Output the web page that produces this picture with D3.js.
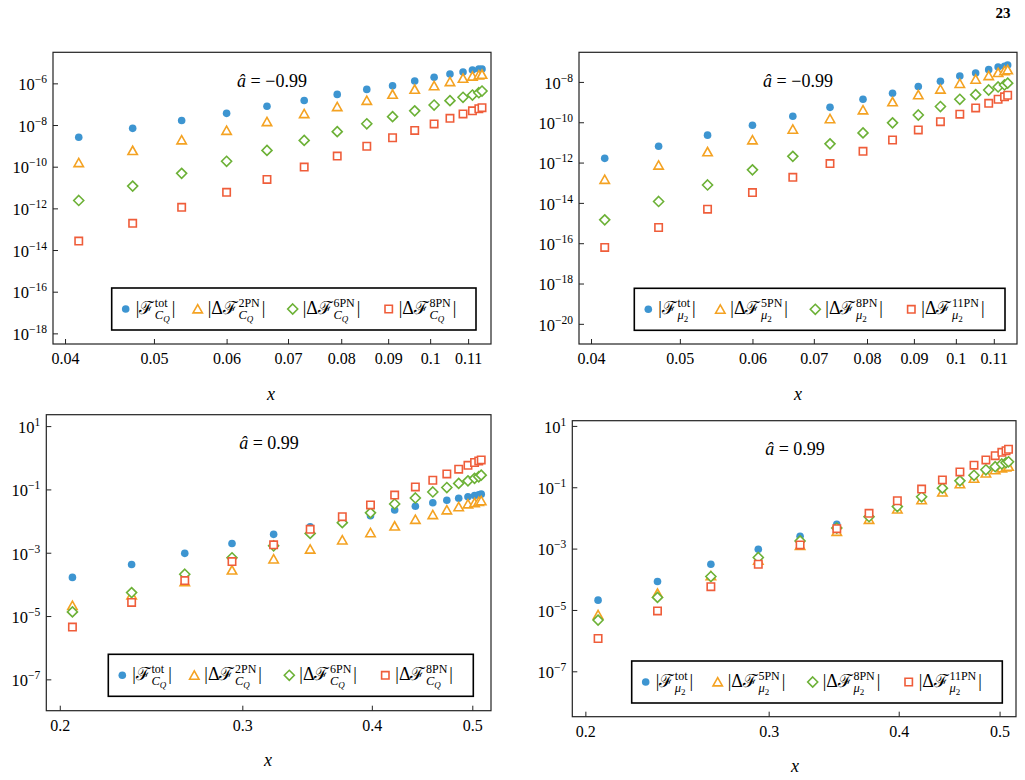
<!DOCTYPE html>
<html>
<head>
<meta charset="utf-8">
<script src="https://cdn.jsdelivr.net/npm/d3@7"></script>
<style>
  body { margin: 0; background: #fff; }
  svg text { font-family: "Liberation Serif", "DejaVu Serif", serif; fill: #000; }
</style>
</head>
<body>
<svg id="fig" width="1025" height="780"></svg>
<script>
// x grid for a = -0.99 (top row) and a = 0.99 (bottom row)
var xNeg = [0.0414, 0.0474, 0.0536, 0.0600, 0.0664, 0.0729, 0.0792, 0.0853, 0.0910, 0.0962, 0.1010, 0.1051, 0.1086, 0.1112, 0.1130, 0.1139];
var xPos = [0.2057, 0.2346, 0.2640, 0.2932, 0.3216, 0.3488, 0.3746, 0.3988, 0.4208, 0.4406, 0.4580, 0.4725, 0.4851, 0.4952, 0.5025, 0.5072, 0.5100];

// log10 of the plotted values
// top left: C_Q, a = -0.99
var cqNegTot = [-8.59, -8.16, -7.78, -7.44, -7.10, -6.82, -6.53, -6.29, -6.12, -5.89, -5.71, -5.55, -5.46, -5.36, -5.31, -5.31];
var cqNeg2PN = [-9.81, -9.23, -8.72, -8.26, -7.84, -7.46, -7.12, -6.82, -6.53, -6.29, -6.12, -5.92, -5.76, -5.66, -5.60, -5.57];
var cqNeg6PN = [-11.62, -10.93, -10.32, -9.74, -9.22, -8.74, -8.32, -7.94, -7.60, -7.32, -7.04, -6.83, -6.67, -6.56, -6.45, -6.37];
var cqNeg8PN = [-13.57, -12.72, -11.95, -11.23, -10.61, -10.02, -9.49, -9.02, -8.61, -8.26, -7.95, -7.68, -7.47, -7.32, -7.22, -7.17];

// top right: mu_2, a = -0.99
var muNegTot = [-11.79, -11.19, -10.64, -10.15, -9.70, -9.26, -8.86, -8.56, -8.23, -7.97, -7.71, -7.56, -7.39, -7.26, -7.23, -7.16];
var muNeg5PN = [-12.84, -12.13, -11.47, -10.88, -10.35, -9.83, -9.39, -8.99, -8.64, -8.36, -8.08, -7.87, -7.69, -7.54, -7.45, -7.40];
var muNeg8PN = [-14.84, -13.93, -13.11, -12.36, -11.69, -11.07, -10.53, -10.03, -9.64, -9.22, -8.86, -8.63, -8.40, -8.25, -8.15, -8.06];
var muNeg11PN = [-16.21, -15.22, -14.31, -13.49, -12.73, -12.05, -11.44, -10.88, -10.38, -9.97, -9.60, -9.29, -9.06, -8.86, -8.74, -8.66];

// bottom left: C_Q, a = 0.99
var cqPosTot = [-3.78, -3.37, -3.02, -2.71, -2.42, -2.18, -2.00, -1.83, -1.65, -1.53, -1.42, -1.34, -1.28, -1.23, -1.19, -1.17, -1.15];
var cqPos2PN = [-4.67, -4.34, -3.92, -3.55, -3.20, -2.89, -2.60, -2.37, -2.16, -1.95, -1.80, -1.65, -1.55, -1.46, -1.42, -1.38, -1.36];
var cqPos6PN = [-4.87, -4.26, -3.68, -3.16, -2.78, -2.39, -2.05, -1.74, -1.46, -1.27, -1.08, -0.94, -0.81, -0.73, -0.65, -0.60, -0.55];
var cqPos8PN = [-5.35, -4.57, -3.88, -3.28, -2.75, -2.26, -1.86, -1.49, -1.18, -0.92, -0.71, -0.51, -0.36, -0.24, -0.15, -0.10, -0.07];

// bottom right: mu_2, a = 0.99
var muPosTot = [-4.68, -4.07, -3.51, -3.02, -2.60, -2.21, -1.97, -1.64, -1.32, -1.05, -0.81, -0.63, -0.45, -0.35, -0.26, -0.22, -0.19];
var muPos5PN = [-5.16, -4.46, -3.89, -3.38, -2.90, -2.44, -2.05, -1.71, -1.41, -1.16, -0.89, -0.71, -0.54, -0.43, -0.37, -0.34, -0.32];
var muPos8PN = [-5.33, -4.59, -3.91, -3.29, -2.75, -2.33, -1.96, -1.63, -1.31, -1.03, -0.79, -0.61, -0.43, -0.33, -0.24, -0.20, -0.17];
var muPos11PN = [-5.93, -5.03, -4.24, -3.51, -2.88, -2.35, -1.85, -1.44, -1.06, -0.76, -0.50, -0.28, -0.11, 0.03, 0.14, 0.19, 0.24];

// tick values
var xTicksNeg = [0.04, 0.05, 0.06, 0.07, 0.08, 0.09, 0.1, 0.11];
var xTicksPos = [0.2, 0.3, 0.4, 0.5];
var yTicksCqNeg = [-6, -8, -10, -12, -14, -16, -18];
var yTicksMuNeg = [-8, -10, -12, -14, -16, -18, -20];
var yTicksPos = [1, -1, -3, -5, -7];

// legend labels
var cqSups = ["tot", "2PN", "6PN", "8PN"];
var muSups = ["tot", "5PN", "8PN", "11PN"];

var colors = ["#3d95d1", "#f4a222", "#6cb136", "#ef5d3a"];
var shapes = ["circle", "triangle", "diamond", "square"];

var svg = d3.select("#fig");

var panels = [
  { box: [53, 52.3, 491, 344], xDom: [0.03881, 0.1165], yDom: [-18.51, -4.51],
    x: xNeg, series: [cqNegTot, cqNeg2PN, cqNeg6PN, cqNeg8PN], xTicks: xTicksNeg, yTicks: yTicksCqNeg,
    sups: cqSups, sub: ["C", "Q"], note: "−0.99", noteAt: [272, 87], xlab: [271, 400], legend: [111.7, 288, 364.3] },
  { box: [579, 52.3, 1017, 344], xDom: [0.03881, 0.1166], yDom: [-21.0, -6.53],
    x: xNeg, series: [muNegTot, muNeg5PN, muNeg8PN, muNeg11PN], xTicks: xTicksNeg, yTicks: yTicksMuNeg,
    sups: muSups, sub: ["μ", "2"], note: "−0.99", noteAt: [798, 87], xlab: [798, 400], legend: [634.3, 288.3, 370.7] },
  { box: [46.3, 414.7, 491, 710.7], xDom: [0.1941, 0.5212], yDom: [-7.99, 1.36],
    x: xPos, series: [cqPosTot, cqPos2PN, cqPos6PN, cqPos8PN], xTicks: xTicksPos, yTicks: yTicksPos,
    sups: cqSups, sub: ["C", "Q"], note: "0.99", noteAt: [269, 449], xlab: [268, 766], legend: [108.3, 654.3, 365] },
  { box: [572.3, 420.7, 1016, 716.7], xDom: [0.1943, 0.5185], yDom: [-8.48, 1.17],
    x: xPos, series: [muPosTot, muPos5PN, muPos8PN, muPos11PN], xTicks: xTicksPos, yTicks: yTicksPos,
    sups: muSups, sub: ["μ", "2"], note: "0.99", noteAt: [795, 455], xlab: [795, 772], legend: [631.7, 661, 370.6] }
];

function markerPath(shape) {
  if (shape == "triangle") return "M0,-4.4L4.7,3.9L-4.7,3.9Z";
  if (shape == "diamond") return "M0,-5L5,0L0,5L-5,0Z";
  if (shape == "square") return "M-3.7,-3.7L3.7,-3.7L3.7,3.7L-3.7,3.7Z";
  return null;
}

function drawMarker(g, shape, color, cx, cy) {
  if (shape == "circle") {
    g.append("circle").attr("cx", cx).attr("cy", cy).attr("r", 3.8).attr("fill", color);
  } else {
    g.append("path")
      .attr("d", markerPath(shape))
      .attr("transform", "translate(" + cx + "," + cy + ")")
      .attr("fill", "#fff")
      .attr("stroke", color)
      .attr("stroke-width", 1.6);
  }
}

// |ΔF^{sup}_{sub}| built from pieces so sup and sub can stack
function mathLabel(g, x, y, delta, sup, sub) {
  var cur = x;
  function put(str, size, dy, italic, at) {
    var t = g.append("text").attr("x", at).attr("y", y + dy)
      .style("font-size", size + "px")
      .style("font-style", italic ? "italic" : "normal")
      .text(str);
    return t.node().getComputedTextLength();
  }
  cur += put(delta ? "|Δ" : "|", 18, 0, false, cur);
  cur += put("ℱ", 18, 0, false, cur) + 0.5;
  var wSup = put(sup, 12, -7, false, cur);
  var wSub = put(sub[0], 12.5, 5, true, cur);
  wSub += put(sub[1], 9, 7.5, sub[1] != "2", cur + wSub);
  cur += Math.max(wSup, wSub) + 2;
  put("|", 18, 0, false, cur);
}

panels.forEach(function(p) {
  var g = svg.append("g");
  var left = p.box[0], top = p.box[1], right = p.box[2], bottom = p.box[3];

  var x = d3.scaleLog().domain(p.xDom).range([left, right]);
  var y = d3.scaleLog().domain([Math.pow(10, p.yDom[0]), Math.pow(10, p.yDom[1])]).range([bottom, top]);

  var xAxis = d3.axisBottom(x).tickValues(p.xTicks).tickSizeInner(-5).tickSizeOuter(0).tickPadding(9)
    .tickFormat(function(d) { return String(d); });
  var yAxis = d3.axisLeft(y).tickValues(p.yTicks.map(function(e) { return Math.pow(10, e); }))
    .tickSizeInner(-5).tickSizeOuter(0).tickPadding(6).tickFormat("");

  var gx = g.append("g").attr("transform", "translate(0," + bottom + ")").call(xAxis);
  gx.attr("font-family", null);
  gx.select(".domain").remove();
  gx.selectAll(".tick line").attr("stroke", "#222");
  gx.selectAll(".tick text").style("font-size", "16px");

  var gy = g.append("g").attr("transform", "translate(" + left + ",0)").call(yAxis);
  gy.attr("font-family", null);
  gy.select(".domain").remove();
  gy.selectAll(".tick line").attr("stroke", "#222");
  gy.selectAll(".tick text").each(function(d, i) {
    var t = d3.select(this).style("font-size", "16.5px").attr("dy", "0.38em");
    t.append("tspan").text("10");
    t.append("tspan").attr("dy", -7).style("font-size", "11.5px")
      .text(String(p.yTicks[i]).replace("-", "−"));
  });

  // points
  p.series.forEach(function(s, k) {
    var pts = g.append("g");
    s.forEach(function(v, i) {
      drawMarker(pts, shapes[k], colors[k], x(p.x[i]), y(Math.pow(10, v)));
    });
  });

  // frame
  g.append("rect").attr("x", left).attr("y", top)
    .attr("width", right - left).attr("height", bottom - top)
    .attr("fill", "none").attr("stroke", "#222").attr("stroke-width", 1.2);

  // spin annotation
  var note = g.append("text").attr("x", p.noteAt[0]).attr("y", p.noteAt[1])
    .attr("text-anchor", "middle").style("font-size", "18px");
  note.append("tspan").style("font-style", "italic").text("â");
  note.append("tspan").text(" = " + p.note);

  // axis label
  g.append("text").attr("x", p.xlab[0]).attr("y", p.xlab[1]).attr("text-anchor", "middle")
    .style("font-size", "18px").style("font-style", "italic").text("x");

  // legend
  var lx = p.legend[0], ly = p.legend[1], lw = p.legend[2], lh = 42;
  var lg = g.append("g");
  lg.append("rect").attr("x", lx).attr("y", ly).attr("width", lw).attr("height", lh)
    .attr("fill", "#fff").attr("stroke", "#000").attr("stroke-width", 1.6);
  var offs = [14, 86, 181, 277];
  offs.forEach(function(o, k) {
    drawMarker(lg, shapes[k], colors[k], lx + o, ly + lh / 2);
    mathLabel(lg, lx + o + 10, ly + lh / 2 + 5, k > 0, p.sups[k], p.sub);
  });
});

svg.append("text").attr("x", 1003).attr("y", 18).attr("text-anchor", "middle")
  .style("font-size", "15px").style("font-weight", "bold").text("23");
</script>
</body>
</html>
